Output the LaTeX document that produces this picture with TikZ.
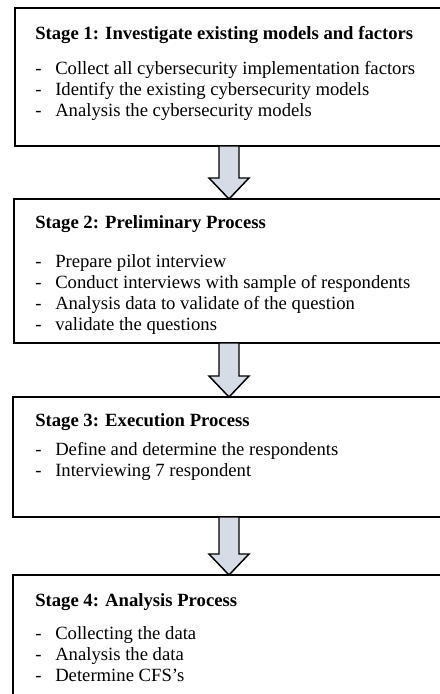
\documentclass[tikz,border=0pt]{standalone}
\usepackage{fontspec}
\setmainfont{Liberation Serif}
\usetikzlibrary{calc}
\definecolor{arrowfill}{HTML}{D6DCE5}
\newcommand{\dashitem}[1]{\makebox[15pt][l]{-}#1}
\begin{document}
\begin{tikzpicture}[
    x=0.75pt,
    y=-0.75pt,
    font=\fontsize{14}{15.75}\selectfont,
    stage/.style={draw, line width=1.5pt, anchor=north west, outer sep=0pt, inner sep=0pt},
    steps/.style={anchor=north west, inner sep=0pt, align=left},
    flow/.style={draw=black, line width=1.1pt, fill=arrowfill, line join=miter},
]
    \useasboundingbox (0, 0) rectangle (440, 694);
    \clip (0, 0) rectangle (440, 694);

    \node[stage, minimum width=321pt, minimum height=103.5pt] (s1) at (15, 8) {};
    \node[stage, minimum width=322.5pt, minimum height=108pt] (s2) at (14, 199) {};
    \node[stage, minimum width=324pt, minimum height=90pt] (s3) at (13, 397) {};
    \node[stage, minimum width=324pt, minimum height=112.5pt] (s4) at (13, 575) {};

    \node[steps] (t1) at ($(s1.north west)+(20, 18.5)$) {%
        \textbf{Stage 1: Investigate existing models and factors}\\[10.5pt]
        \dashitem{Collect all cybersecurity implementation factors}\\
        \dashitem{Identify the existing cybersecurity models}\\
        \dashitem{Analysis the cybersecurity models}};
    \node[steps] (t2) at ($(s2.north west)+(21, 16.5)$) {%
        \textbf{Stage 2: Preliminary Process}\\[13.5pt]
        \dashitem{Prepare pilot interview}\\
        \dashitem{Conduct interviews with sample of respondents}\\
        \dashitem{Analysis data to validate of the question}\\
        \dashitem{validate the questions}};
    \node[steps] (t3) at ($(s3.north west)+(22, 16.5)$) {%
        \textbf{Stage 3: Execution Process}\\[6pt]
        \dashitem{Define and determine the respondents}\\
        \dashitem{Interviewing 7 respondent}};
    \node[steps] (t4) at ($(s4.north west)+(22, 18.5)$) {%
        \textbf{Stage 4: Analysis Process}\\[9pt]
        \dashitem{Collecting the data}\\
        \dashitem{Analysis the data}\\
        \dashitem{Determine CFS’s}};

    % block arrows between the stages
    \foreach \a/\b in {s1/s2, s2/s3, s3/s4}
        \draw[flow] ($(\a.south)+(-10, 0)$) -- ($(\b.north)+(-10, -21)$)
            -- ($(\b.north)+(-20, -21)$) -- (\b.north) -- ($(\b.north)+(20, -21)$)
            -- ($(\b.north)+(10, -21)$) -- ($(\a.south)+(10, 0)$) -- cycle;
\end{tikzpicture}
\end{document}
